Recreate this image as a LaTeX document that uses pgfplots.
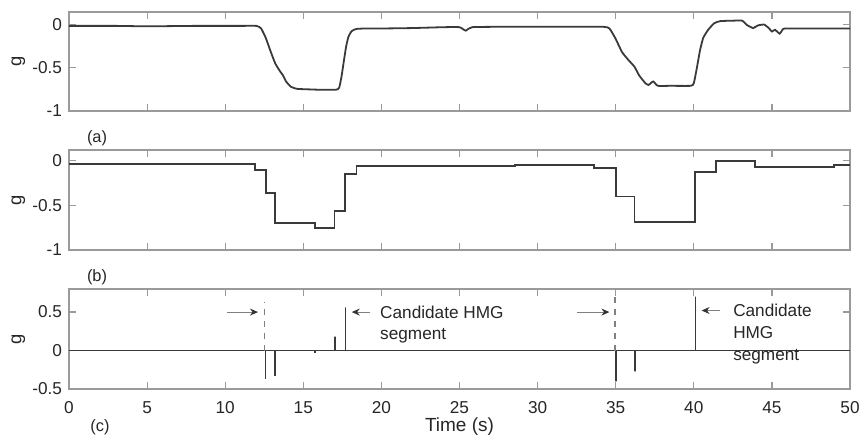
\documentclass[border=0pt]{standalone}
\usepackage{fontspec}
\setmainfont{Liberation Sans}
\usepackage{pgfplots}
\pgfplotsset{compat=1.18}
\usetikzlibrary{arrows.meta}

\definecolor{axgray}{HTML}{9A9A9A}
\definecolor{linegray}{HTML}{3A3A3A}
\definecolor{txt}{HTML}{262626}

\tikzset{
  dataline/.style={linegray, line width=0.9pt},
  plab/.style={font=\fontsize{8.2}{10}\selectfont, text=txt, anchor=center},
}
\pgfplotsset{
  panel/.style={
    scale only axis,
    width=390.5pt,
    xmin=0, xmax=50,
    xtick={0,5,...,50},
    axis line style={axgray, line width=0.7pt},
    tick style={axgray, line width=0.6pt},
    major tick length=3.5pt,
    tick align=inside,
    tick pos=both,
    ticklabel style={font=\fontsize{8.6}{10}\selectfont, text=txt},
    /pgf/number format/assume math mode=true,
    every axis y label/.style={at={(axis description cs:-0.0647,0.5)},
      rotate=90, anchor=center, font=\fontsize{9.2}{10}\selectfont, text=txt},
    clip=false,
  },
}

\begin{document}
\begin{tikzpicture}
% (a)
\begin{axis}[panel, at={(34.5pt,-6pt)}, anchor=north west, height=49.5pt,
    ymin=-1, ymax=0.14, ytick={-1,-0.5,0}, yticklabels={-1,-0.5,0},
    xticklabels={}, ylabel={g}]
\addplot[dataline, smooth, tension=0.3] coordinates {
 (0,-0.02) (3,-0.02) (5,-0.025) (8,-0.02) (11,-0.02) (12,-0.02)
 (12.3,-0.05) (12.6,-0.16) (12.9,-0.31) (13.2,-0.45) (13.5,-0.54) (13.7,-0.59)
 (13.9,-0.66) (14.2,-0.72) (14.6,-0.745) (15.2,-0.75) (16,-0.755) (17.1,-0.755)
 (17.3,-0.73) (17.45,-0.6) (17.6,-0.42) (17.75,-0.25) (17.9,-0.14) (18.1,-0.08)
 (18.4,-0.055) (19,-0.05) (20,-0.05) (22,-0.045) (24,-0.035) (25,-0.035)
 (25.4,-0.075) (25.8,-0.035) (28,-0.03) (30,-0.03) (32,-0.03) (34.2,-0.03)
 (34.6,-0.05) (35,-0.17) (35.4,-0.32) (35.8,-0.41) (36.2,-0.49) (36.5,-0.59)
 (36.9,-0.68) (37.1,-0.70) (37.4,-0.66) (37.7,-0.71) (38.5,-0.71) (39.8,-0.71)
 (40.0,-0.68) (40.2,-0.50) (40.4,-0.30) (40.6,-0.16) (40.9,-0.07) (41.3,0.01)
 (41.7,0.035) (42.5,0.04) (43.1,0.04) (43.4,-0.01) (43.8,-0.045) (44.1,-0.015)
 (44.5,-0.005) (44.8,-0.045) (45.0,-0.085) (45.2,-0.065) (45.5,-0.11) (45.7,-0.06)
 (46,-0.05) (50,-0.05)};
\node[plab] at (axis description cs:0.0359,-0.273) {(a)};
\end{axis}
% (b)
\begin{axis}[panel, at={(34.5pt,-75pt)}, anchor=north west, height=50pt,
    ymin=-1, ymax=0.12, ytick={-1,-0.5,0}, yticklabels={-1,-0.5,0},
    xticklabels={}, ylabel={g}]
\addplot[dataline, const plot] coordinates {
 (0,-0.037) (11.9,-0.10) (12.6,-0.365) (13.2,-0.70) (15.75,-0.75) (17.0,-0.56)
 (17.65,-0.15) (18.4,-0.056) (28.55,-0.048) (33.6,-0.085) (35.0,-0.40)
 (36.2,-0.69) (40.1,-0.13) (41.4,0.0) (43.9,-0.067) (49.0,-0.05) (50,-0.05)};
\node[plab] at (axis description cs:0.0359,-0.27) {(b)};
\end{axis}
% (c)
\begin{axis}[panel, at={(34.5pt,-144.5pt)}, anchor=north west, height=50pt,
    ymin=-0.5, ymax=0.8, ytick={-0.5,0,0.5}, yticklabels={-0.5,0,0.5},
    xticklabel style={yshift=-2.8pt},
    xlabel={Time (s)},
    xlabel style={at={(axis description cs:0.5,-0.377)}, anchor=center,
      font=\fontsize{9.5}{10}\selectfont, text=txt},
    ylabel={g}]
\addplot[dataline, line width=0.8pt] coordinates {
 (0,0) (12.57,0) (12.57,-0.37) (12.57,0) (13.19,0) (13.19,-0.33) (13.19,0)
 (15.75,0) (15.75,-0.03) (15.75,0) (17.03,0) (17.03,0.18) (17.03,0)
 (17.7,0) (17.7,0.56) (17.7,0) (35.0,0) (35.0,-0.40) (35.0,0)
 (36.24,0) (36.24,-0.27) (36.24,0) (40.1,0) (40.1,0.70) (40.1,0) (50,0)};
\addplot[gray, dashed, line width=0.6pt] coordinates {(12.5,0) (12.5,0.63)};
\addplot[gray, dashed, line width=0.6pt] coordinates {(34.96,0) (34.96,0.75)};
\draw[gray, line width=0.5pt, -{Stealth[length=4pt,width=3.5pt,black!80]}]
  (axis cs:10.1,0.5) -- (axis cs:12.1,0.5);
\draw[gray, line width=0.5pt, -{Stealth[length=4pt,width=3.5pt,black!80]}]
  (axis cs:19.3,0.5) -- (axis cs:18.1,0.5);
\draw[gray, line width=0.5pt, -{Stealth[length=4pt,width=3.5pt,black!80]}]
  (axis cs:32.5,0.5) -- (axis cs:34.6,0.5);
\draw[gray, line width=0.5pt, -{Stealth[length=4pt,width=3.5pt,black!80]}]
  (axis cs:41.7,0.52) -- (axis cs:40.5,0.52);
\node[anchor=north west, inner sep=0pt, align=left, text=txt,
  font=\fontsize{8.6}{10.5}\selectfont] at (axis cs:19.9,0.59)
  {Candidate HMG\\segment};
\node[anchor=north west, inner sep=0pt, align=left, text=txt,
  font=\fontsize{8.6}{10.8}\selectfont] at (axis cs:42.5,0.605)
  {Candidate\\HMG\\segment};
\node[plab] at (axis description cs:0.0397,-0.38) {(c)};
\end{axis}
\pgfresetboundingbox
\useasboundingbox (0,0) rectangle (430.5pt,-218.5pt);
\end{tikzpicture}
\end{document}
